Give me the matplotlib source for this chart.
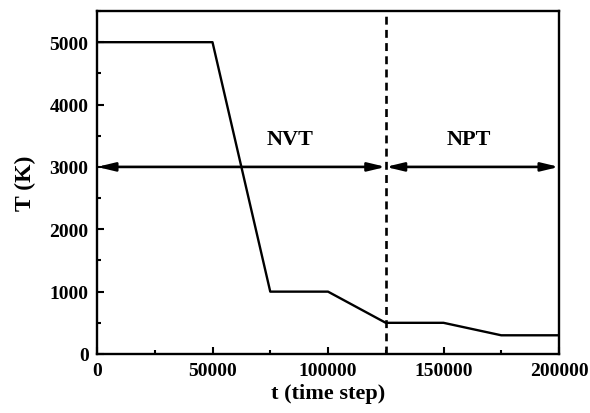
import matplotlib
matplotlib.use("Agg")
import matplotlib.pyplot as plt
from matplotlib.ticker import MultipleLocator

# temperature schedule
t_steps = [0, 50000, 75000, 100000, 125000, 150000, 175000, 200000]
temps = [5000, 5000, 1000, 1000, 500, 500, 300, 300]

switch_t = 125000
arrow_T = 3000
phase_labels = ["NVT", "NPT"]
phase_ranges = [(0, switch_t), (switch_t, 200000)]
label_pos = [(83500, 3450), (161000, 3450)]

plt.rcParams["font.family"] = "Liberation Serif"
plt.rcParams["font.weight"] = "bold"

fig = plt.figure(figsize=(5.9, 4.14), dpi=100)
ax = fig.add_axes([97 / 590, 59 / 414, 462 / 590, 343 / 414])

ax.plot(t_steps, temps, color="black", lw=1.7)
ax.axvline(switch_t, color="black", lw=1.9, ls=(0, (3, 2)))

for (x0, x1), lab, (lx, ly) in zip(phase_ranges, phase_labels, label_pos):
    ax.annotate("", xy=(x1, arrow_T), xytext=(x0, arrow_T),
                arrowprops=dict(arrowstyle="<|-|>,head_length=0.75,head_width=0.18",
                                color="black", lw=1.9,
                                shrinkA=0, shrinkB=0, mutation_scale=14))
    ax.text(lx, ly, lab, fontsize=16, fontweight="bold", ha="center", va="center")

ax.set_xlim(0, 200000)
ax.set_ylim(0, 5500)
ax.xaxis.set_major_locator(MultipleLocator(50000))
ax.xaxis.set_minor_locator(MultipleLocator(25000))
ax.yaxis.set_major_locator(MultipleLocator(1000))
ax.yaxis.set_minor_locator(MultipleLocator(500))
ax.tick_params(which="both", direction="in", width=1.5, labelsize=14)
ax.tick_params(axis="x", which="major", pad=6)
ax.tick_params(axis="y", which="major", pad=6)
ax.tick_params(which="major", length=5)
ax.tick_params(which="minor", length=3)
for s in ax.spines.values():
    s.set_linewidth(1.7)
for lab in ax.get_xticklabels() + ax.get_yticklabels():
    lab.set_fontweight("bold")

ax.set_xlabel("t (time step)", fontsize=16, fontweight="bold", labelpad=3)
ax.set_ylabel("T (K)", fontsize=17, fontweight="bold", labelpad=10)

fig.savefig("out.png", dpi=100)
